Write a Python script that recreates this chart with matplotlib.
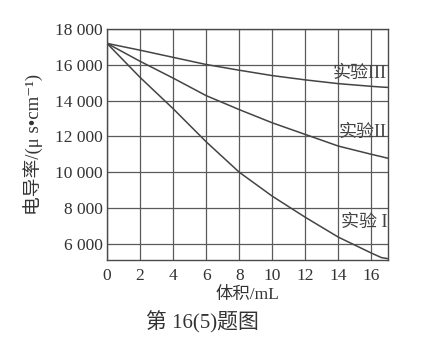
import matplotlib
matplotlib.use('Agg')
from matplotlib import pyplot as plt

# 数据
vol = [0, 2, 4, 6, 8, 10, 12, 14, 16, 16.6, 17]
exp1 = [17200, 15300, 13550, 11700, 10000, 8660, 7480, 6370, 5480, 5230, 5170]
exp2 = [17200, 16200, 15260, 14280, 13500, 12760, 12110, 11460, 11000, 10870, 10780]
exp3 = [17200, 16820, 16420, 16020, 15700, 15400, 15160, 14950, 14800, 14760, 14740]

labels = ['实验 I', '实验II', '实验III']
label_y = [7200, 12200, 15500]

xticks = [0, 2, 4, 6, 8, 10, 12, 14, 16]
yticks = [6000, 8000, 10000, 12000, 14000, 16000, 18000]
ytick_labels = ['6 000', '8 000', '10 000', '12 000', '14 000', '16 000', '18 000']

fam = ['Liberation Serif', 'Noto Sans CJK SC', 'DejaVu Sans']
plt.rcParams['font.family'] = fam

fig = plt.figure(figsize=(4.35, 3.42), dpi=100)
ax = fig.add_axes([0.246, 0.240, 0.646, 0.675])

line_c = '#444444'
ax.set_xlim(0, 17)
ax.set_ylim(5100, 18000)
ax.set_xticks(xticks)
ax.set_yticks(yticks)
ax.set_yticklabels(ytick_labels)
ax.grid(True, color='#5a5a5a', linewidth=0.9)
ax.set_axisbelow(True)
for s in ax.spines.values():
    s.set_color('#4a4a4a')
    s.set_linewidth(1.0)
ax.tick_params(length=0, labelsize=12.5, colors='#333333')
ax.tick_params(axis='x', pad=6)
ax.tick_params(axis='y', pad=3)

for ys in (exp1, exp2, exp3):
    ax.plot(vol, ys, color=line_c, linewidth=1.1)

for lab, yy in zip(labels, label_y):
    ax.text(16.95, yy, lab, ha='right', va='center', fontsize=13, color='#444444')

ax.set_xlabel('体积/mL', fontsize=12.5, color='#333333', labelpad=2)
ax.set_ylabel('电导率/(μ s•cm⁻¹)', fontsize=13.5, color='#333333', labelpad=9)

fig.text(0.465, 0.058, '第 16(5)题图', ha='center', va='center', fontsize=15, color='#333333')

fig.savefig('out.png', dpi=100, facecolor='white')
